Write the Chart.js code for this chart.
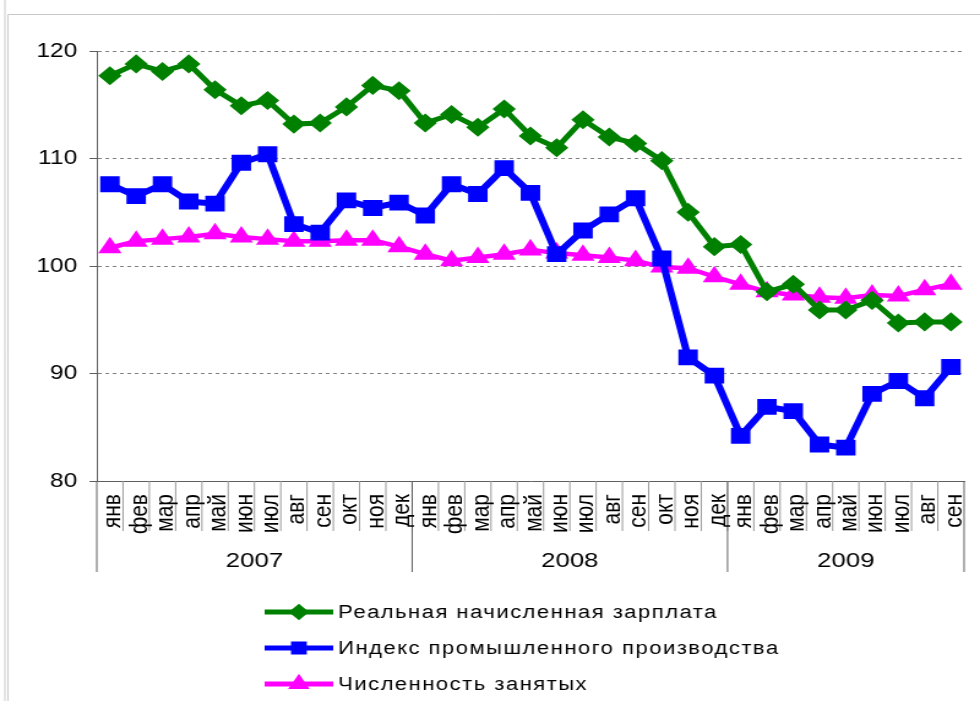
<!DOCTYPE html>
<html lang="ru">
<head>
<meta charset="utf-8">
<title>Зарплата, производство и занятость</title>
<script src="https://cdn.jsdelivr.net/npm/chart.js@4/dist/chart.umd.min.js"></script>
<style>
  html, body { margin: 0; padding: 0; background: #fff; overflow: hidden; }
  #chart { display: block; }
</style>
</head>
<body>
<!-- drawn at 800 wide and widened to 980 on the page -->
<canvas id="chart" width="800" height="701" style="width:980px;height:701px"></canvas>
<script>
const months = ['янв', 'фев', 'мар', 'апр', 'май', 'июн', 'июл', 'авг', 'сен', 'окт', 'ноя', 'дек'];
const categories = [...months, ...months, ...months.slice(0, 9)];
const years = ['2007', '2008', '2009'];
const monthsPerYear = [12, 12, 9];

const wage = [
    117.7, 118.8, 118.1, 118.8, 116.4, 114.9, 115.4, 113.2, 113.3, 114.8, 116.8, 116.3,
    113.3, 114.1, 112.9, 114.6, 112.1, 111.0, 113.6, 112.0, 111.4, 109.8, 105.0, 101.8,
    102.0, 97.6, 98.3, 95.9, 95.9, 96.8, 94.7, 94.8, 94.8
];
const industry = [
    107.6, 106.5, 107.6, 106.0, 105.8, 109.6, 110.4, 103.9, 103.1, 106.1, 105.4, 105.9,
    104.7, 107.6, 106.7, 109.1, 106.8, 101.1, 103.3, 104.8, 106.3, 100.7, 91.5, 89.8,
    84.2, 86.9, 86.5, 83.4, 83.1, 88.1, 89.3, 87.7, 90.6
];
const employment = [
    101.7, 102.3, 102.5, 102.7, 103.0, 102.7, 102.5, 102.3, 102.3, 102.4, 102.4, 101.8,
    101.1, 100.5, 100.8, 101.1, 101.5, 101.2, 101.0, 100.8, 100.5, 99.9, 99.8, 99.0,
    98.3, 97.6, 97.3, 97.1, 97.0, 97.3, 97.2, 97.8, 98.3
];
const yMin = 80;
const yMax = 120;
const yStep = 10;

const FONT = 'Arial, "Liberation Sans", sans-serif';
const AXIS = '#606060';
const CELL = '#9a9a9a';

function line(ctx, x1, y1, x2, y2) {
    ctx.beginPath();
    ctx.moveTo(x1, y1);
    ctx.lineTo(x2, y2);
    ctx.stroke();
}

// frame, two-level category axis and a stacked legend
const decor = {
    id: 'decor',
    beforeDraw(chart) {
        const { ctx, width, height } = chart;
        ctx.save();
        ctx.strokeStyle = '#c8c8c8';
        ctx.lineWidth = 1;
        line(ctx, 4, 0, 4, height);
        line(ctx, 6.5, 14.5, 6.5, height);
        line(ctx, 6.5, 14.5, width, 14.5);
        ctx.restore();
    },
    afterDraw(chart) {
        const { ctx, chartArea } = chart;
        const x = chart.scales.x;
        const band = x.getPixelForValue(1) - x.getPixelForValue(0);
        const bottom = chartArea.bottom;
        const edge = i => x.getPixelForValue(i) - band / 2;

        ctx.save();
        ctx.lineWidth = 1;

        // month cells
        ctx.strokeStyle = CELL;
        for (let i = 1; i < categories.length; i++) {
            line(ctx, edge(i), bottom, edge(i), bottom + 50);
        }

        // year cells
        ctx.strokeStyle = AXIS;
        let start = 0;
        const starts = [];
        monthsPerYear.forEach(n => { starts.push(start); start += n; });
        [...starts, categories.length].forEach(i => {
            line(ctx, edge(i), bottom, edge(i), bottom + 91);
        });

        ctx.fillStyle = '#000';
        ctx.font = '21px ' + FONT;
        categories.forEach((m, i) => {
            ctx.save();
            ctx.translate(x.getPixelForValue(i) + 8.5, bottom + 13);
            ctx.rotate(-Math.PI / 2);
            ctx.textAlign = 'right';
            ctx.textBaseline = 'alphabetic';
            ctx.fillText(m, 0, 0);
            ctx.restore();
        });

        ctx.textAlign = 'center';
        ctx.textBaseline = 'alphabetic';
        years.forEach((y, k) => {
            const cx = (edge(starts[k]) + edge(starts[k] + monthsPerYear[k])) / 2;
            ctx.fillText(y, cx, bottom + 86);
        });

        // legend
        ctx.font = '18px ' + FONT;
        ctx.letterSpacing = '1.2px';
        ctx.textAlign = 'left';
        ctx.textBaseline = 'middle';
        chart.data.datasets.forEach((ds, i) => {
            const y = 612 + i * 36;
            ctx.strokeStyle = ds.borderColor;
            ctx.fillStyle = ds.borderColor;
            ctx.lineWidth = 5;
            line(ctx, 216, y, 272, y);
            Chart.helpers.drawPoint(ctx, {
                pointStyle: ds.pointStyle, rotation: 0,
                radius: ds.pointRadius * 0.8, borderWidth: 1
            }, 244, y);
            ctx.fillStyle = '#000';
            ctx.fillText(ds.label, 276, y + 1);
        });
        ctx.restore();
    }
};

new Chart(document.getElementById('chart'), {
    type: 'line',
    data: {
        labels: categories,
        datasets: [{
            label: 'Реальная начисленная зарплата',
            data: wage,
            borderColor: '#008000',
            backgroundColor: '#008000',
            borderWidth: 5,
            pointStyle: 'rectRot',
            pointRadius: 6
        }, {
            label: 'Индекс промышленного производства',
            data: industry,
            borderColor: '#0000ff',
            backgroundColor: '#0000ff',
            borderWidth: 6,
            pointStyle: 'rect',
            pointRadius: 7
        }, {
            label: 'Численность занятых',
            data: employment,
            borderColor: '#ff00ff',
            backgroundColor: '#ff00ff',
            borderWidth: 4.5,
            pointStyle: 'triangle',
            pointRadius: 6.5
        }]
    },
    options: {
        responsive: false,
        devicePixelRatio: 1,
        animation: false,
        layout: { padding: { top: 51, right: 10, bottom: 220, left: 0 } },
        elements: { line: { tension: 0 } },
        plugins: { legend: { display: false }, tooltip: { enabled: false } },
        scales: {
            x: {
                type: 'category',
                offset: true,
                grid: { display: false },
                ticks: { display: false },
                border: { display: true, color: AXIS, width: 1 },
                afterFit: s => { s.height = 0; }
            },
            y: {
                min: yMin,
                max: yMax,
                ticks: { stepSize: yStep, padding: 10, color: '#000', font: { family: FONT, size: 20 } },
                grid: {
                    color: '#808080',
                    lineWidth: 1,
                    tickLength: 6,
                    tickColor: AXIS,
                    tickBorderDash: []
                },
                border: { display: true, color: AXIS, width: 1, dash: [3, 3] },
                afterFit: s => { s.width = 79; }
            }
        }
    },
    plugins: [decor]
});
</script>
</body>
</html>
